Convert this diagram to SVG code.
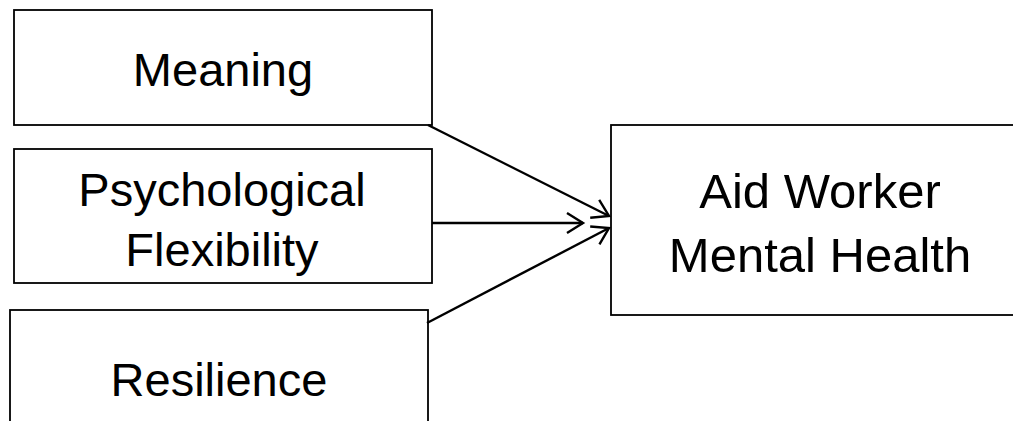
<svg xmlns="http://www.w3.org/2000/svg" width="1013" height="421" viewBox="0 0 1013 421">
  <defs>
    <style>
      .box { fill: #ffffff; stroke: #000000; stroke-width: 1.8; }
      .lbl { font-family: "Liberation Sans", Arial, sans-serif; font-size: 47px; fill: #000000; text-anchor: middle; }
      .big { font-size: 49px; }
      .conn { stroke: #000000; stroke-width: 2.4; fill: none; marker-end: url(#arrow); }
    </style>
    <marker id="arrow" markerUnits="userSpaceOnUse" viewBox="-20 -12 22 24" refX="0" refY="0" markerWidth="22" markerHeight="24" orient="auto" overflow="visible">
      <path d="M-16,-10 L0,0 L-16,10" fill="none" stroke="#000000" stroke-width="2.4"/>
    </marker>
  </defs>
  <rect width="1013" height="421" fill="#ffffff"/>
  <g id="node-meaning">
    <rect class="box" x="14" y="10" width="418" height="115"/>
    <text class="lbl" x="223" y="86">Meaning</text>
  </g>
  <g id="node-flexibility">
    <rect class="box" x="14" y="149" width="418" height="134"/>
    <text class="lbl" x="222" y="206">Psychological</text>
    <text class="lbl" x="222" y="266">Flexibility</text>
  </g>
  <g id="node-resilience">
    <rect class="box" x="10" y="310" width="418" height="130"/>
    <text class="lbl" x="219" y="396">Resilience</text>
  </g>
  <g id="node-mental-health">
    <rect class="box" x="611" y="125" width="420" height="190"/>
    <text class="lbl big" x="820" y="208">Aid Worker</text>
    <text class="lbl big" x="820" y="272">Mental Health</text>
  </g>
  <g id="connectors">
    <line class="conn" x1="428" y1="125" x2="609" y2="216"/>
    <line class="conn" x1="432" y1="223" x2="583" y2="223"/>
    <line class="conn" x1="427" y1="323" x2="609" y2="228"/>
  </g>
</svg>
